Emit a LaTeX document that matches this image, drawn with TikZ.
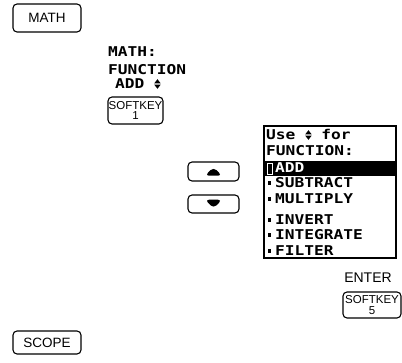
\documentclass[tikz,border=0pt]{standalone}
\usepackage{fontspec}
\setmainfont{Liberation Sans}
\newfontfamily\lcdfont[FakeStretch=1.2]{DejaVu Sans Mono}
\usetikzlibrary{positioning}

\newcommand{\lcd}{\lcdfont\bfseries\fontsize{13.5}{15}\selectfont}
\newcommand{\updn}{\tikz[baseline=0pt,x=1pt,y=1pt]{%
  \fill (0,5.6)--(6.5,5.6)--(3.25,9.8)--cycle;
  \fill (0,4.4)--(6.5,4.4)--(3.25,0.2)--cycle;}}
\newcommand{\uptri}{\tikz[x=1pt,y=1pt]\fill (0,0)--(17,0)--(8.5,8.5)--cycle;}
\newcommand{\dntri}{\tikz[x=1pt,y=1pt]\fill (0,8.5)--(17,8.5)--(8.5,0)--cycle;}

\begin{document}
\begin{tikzpicture}[x=1pt,y=-1pt,
    keybox/.style={draw,rounded corners=4pt,line width=1.1pt,inner sep=0pt,
                   align=center,font=\fontsize{13.5}{13.5}\selectfont},
    softkey/.style={keybox,font=\fontsize{11.5}{10.5}\selectfont},
    lcdline/.style={anchor=base west,inner sep=0pt,font=\lcd},
    bullet/.style={fill,minimum width=3.5pt,minimum height=4.5pt,inner sep=0pt}]
  \useasboundingbox (0,0) rectangle (402,363);

  % keys on the left
  \node[keybox,minimum width=68pt,minimum height=28pt] (math) at (47,18) {MATH};
  \node[keybox,minimum width=68pt,minimum height=23pt] (scope) at (47,342.5) {SCOPE};

  % softkey 1 and its display
  \node[lcdline] (mlabel) at (108,57) {MATH:};
  \node[lcdline] (flabel) at (108,75) {FUNCTION};
  \node[lcdline] (alabel) at (115,89) {ADD \updn};
  \node[softkey,minimum width=55pt,minimum height=27pt] (sk1) at (135.5,110.5) {SOFTKEY\\1};

  % arrow keys
  \node[keybox,minimum width=51pt,minimum height=19pt] (upkey) at (213.5,171.5) {\uptri};
  \node[keybox,minimum width=51pt,minimum height=18pt] (dnkey) at (213.5,204) {\dntri};

  % screen
  \node[draw,line width=1.3pt,minimum width=132pt,minimum height=132pt,inner sep=0pt]
    (screen) at (330,192) {};
  \fill (screen.west |- 0,161) rectangle (screen.east |- 0,176.5);
  \node[lcdline] (use) at (266,140) {Use \updn{} for};
  \node[lcdline] (func) at (266,156) {FUNCTION:};
  \draw[white,fill=black,line width=0.8pt] (267,163.5) rectangle (272.5,174.5);
  \node[lcdline,white] (add) at (275,173) {ADD};
  \foreach \name/\txt/\y in {sub/SUBTRACT/188,mul/MULTIPLY/204,inv/INVERT/225,
                             int/INTEGRATE/240,fil/FILTER/256}{
    \node[bullet] (b\name) at (269.5,\y-5) {};
    \node[lcdline] (\name) at (275,\y) {\txt};
  }

  % enter
  \node[font=\fontsize{14}{14}\selectfont,inner sep=0pt] (enter) at (368,278) {ENTER};
  \node[softkey,minimum width=58pt,minimum height=26pt] (sk5) at (372,305) {SOFTKEY\\5};
\end{tikzpicture}
\end{document}
